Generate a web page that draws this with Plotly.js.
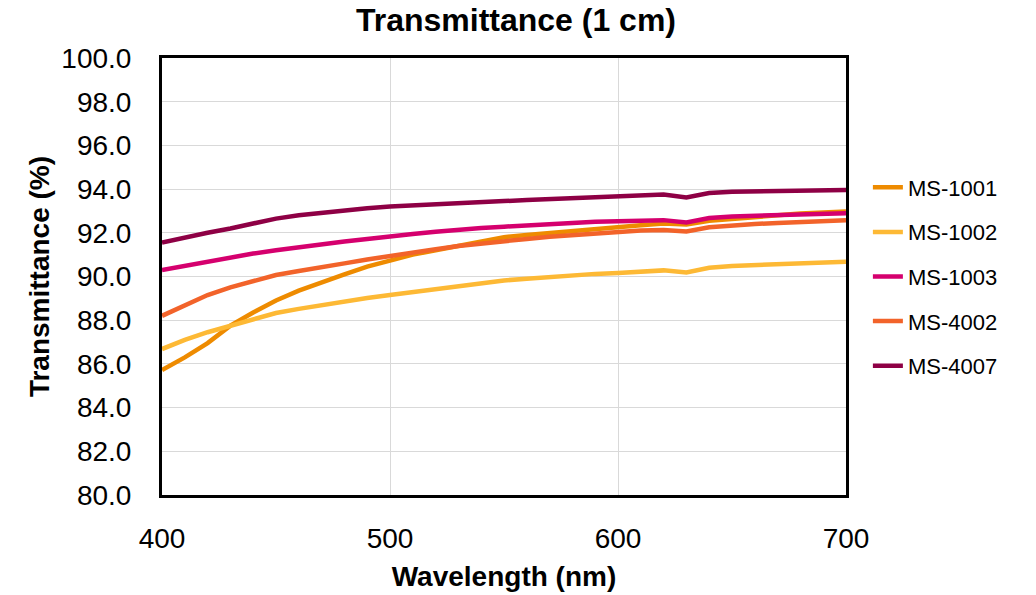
<!DOCTYPE html>
<html>
<head>
<meta charset="utf-8">
<script src="https://cdn.plot.ly/plotly-3.0.1.min.js"></script>
<style>html,body{margin:0;padding:0;background:#fff;}#chart{width:1036px;height:595px;}</style>
</head>
<body>
<div id="chart"></div>
<script>
const wavelength = [400,410,420,430,440,450,460,470,480,490,500,510,520,530,540,550,560,570,580,590,600,610,620,630,640,650,660,670,680,690,700];
const ms1001 = [85.72,86.30,86.95,87.75,88.35,88.90,89.35,89.75,90.10,90.45,90.75,91.00,91.20,91.40,91.60,91.80,91.90,92.00,92.10,92.20,92.28,92.35,92.42,92.38,92.55,92.65,92.72,92.80,92.88,92.93,92.97];
const ms1002 = [86.68,87.10,87.45,87.75,88.05,88.33,88.52,88.70,88.87,89.02,89.15,89.28,89.40,89.55,89.70,89.82,89.90,89.98,90.05,90.12,90.16,90.22,90.28,90.18,90.40,90.48,90.52,90.56,90.60,90.64,90.68];
const ms1003 = [90.30,90.50,90.70,90.88,91.05,91.20,91.35,91.48,91.60,91.72,91.85,91.95,92.05,92.15,92.22,92.28,92.35,92.40,92.45,92.50,92.54,92.57,92.58,92.47,92.68,92.75,92.78,92.82,92.85,92.88,92.90];
const ms4002 = [88.20,88.70,89.15,89.50,89.80,90.07,90.25,90.45,90.60,90.78,90.92,91.10,91.25,91.40,91.52,91.62,91.72,91.82,91.90,91.98,92.05,92.10,92.13,92.06,92.25,92.35,92.40,92.45,92.50,92.55,92.58];
const ms4007 = [91.55,91.80,92.00,92.20,92.45,92.65,92.80,92.92,93.02,93.12,93.20,93.26,93.30,93.35,93.40,93.45,93.50,93.55,93.60,93.65,93.70,93.73,93.75,93.62,93.82,93.88,93.90,93.92,93.94,93.95,93.96];
const seriesNames = ["MS-1001","MS-1002","MS-1003","MS-4002","MS-4007"];
const seriesValues = [ms1001, ms1002, ms1003, ms4002, ms4007];
const colors = ["#EE8B00","#FDB935","#D5006E","#F2632A","#8E0045"];
const yTicks = [80,82,84,86,88,90,92,94,96,98,100];
const xTicks = [400,500,600,700];

const FONT = '"Liberation Sans", Arial, sans-serif';
const traces = seriesNames.map((n,i)=>({
  x: wavelength, y: seriesValues[i], name: n, type: 'scatter', mode: 'lines',
  legendgroup: n,
  line: {color: colors[i], width: 4.5}
}));
const layout = {
  width: 1036, height: 595,
  margin: {l:162, r:190, t:58, b:100},
  paper_bgcolor: '#fff', plot_bgcolor: '#fff',
  font: {family: FONT, color: '#000', size: 28},
  title: {text: '<b>Transmittance (1 cm)</b>', x: 0.5175, xref: 'paper', xanchor: 'center', y: 0.966, yanchor: 'middle', font: {size: 32, family: FONT}},
  xaxis: {range: [400,700], tickvals: xTicks, ticktext: xTicks.map(String), showgrid: true, gridcolor: '#d9d9d9', gridwidth: 1,
    showline: true, linecolor: '#000', linewidth: 3, mirror: true, ticks: '', zeroline: false,
    tickfont: {size: 28}, ticklabelstandoff: 16,
    title: {text: '<b>Wavelength (nm)</b>', font: {size: 28}, standoff: 14}},
  yaxis: {range: [80,100], tickvals: yTicks, ticktext: yTicks.map(v=>v.toFixed(1)), showgrid: true, gridcolor: '#d9d9d9', gridwidth: 1,
    showline: true, linecolor: '#000', linewidth: 3, mirror: true, ticks: '', zeroline: false,
    tickfont: {size: 28}, ticklabelstandoff: 22,
    title: {text: '<b>Transmittance (%)</b>', font: {size: 28}, standoff: 4}},
  legend: {x: 1.032, xanchor: 'left', y: 0.5, yanchor: 'middle', font: {size: 22}, tracegroupgap: 13, bgcolor: 'rgba(0,0,0,0)'},
  showlegend: true
};
Plotly.newPlot('chart', traces, layout, {displayModeBar: false, staticPlot: true});
</script>
</body>
</html>
